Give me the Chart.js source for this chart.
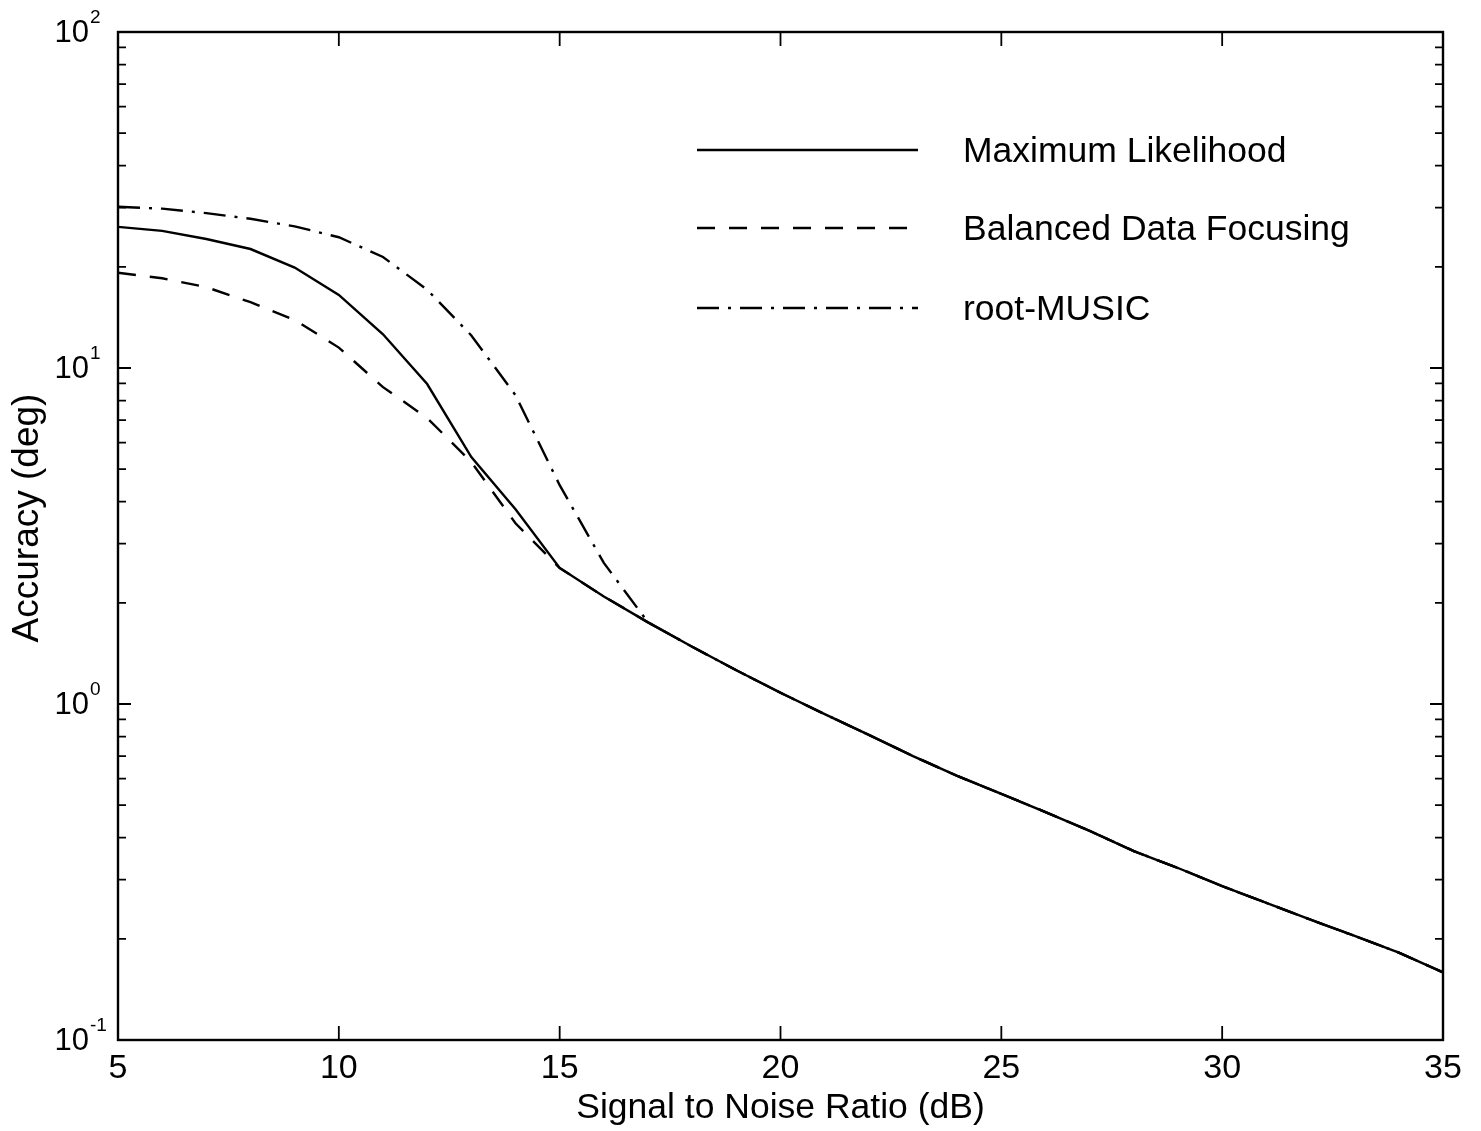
<!DOCTYPE html>
<html>
<head>
<meta charset="utf-8">
<script src="https://cdn.jsdelivr.net/npm/chart.js@4.4.1/dist/chart.umd.min.js"></script>
<style>
  body { margin: 0; background: #fff; }
  #wrap { width: 1481px; height: 1131px; position: relative; }
</style>
</head>
<body>
<div id="wrap"><canvas id="lineChart"></canvas></div>
<script>
const CHART = document.getElementById("lineChart");
const FONT = "'Liberation Sans', Arial, Helvetica, sans-serif";

// SNR (dB) on the x axis
var snr = [5, 6, 7, 8, 9, 10, 11, 12, 13, 14, 15, 16, 17, 18, 19, 20,
           21, 22, 23, 24, 25, 26, 27, 28, 29, 30, 31, 32, 33, 34, 35];

// accuracy in degrees
var maxLikelihood = [26.3, 25.6, 24.2, 22.6, 19.9, 16.5, 12.6, 8.96, 5.43, 3.8, 2.54, 2.09, 1.75, 1.48, 1.26, 1.08,
                     0.933, 0.809, 0.700, 0.611, 0.540, 0.477, 0.419, 0.365, 0.325, 0.287, 0.256, 0.228, 0.204, 0.182, 0.159];
var balancedFocusing = [19.2, 18.5, 17.4, 15.7, 13.9, 11.5, 8.77, 7.1, 5.25, 3.45, 2.54, 2.09, 1.75, 1.48, 1.26, 1.08,
                        0.933, 0.809, 0.700, 0.611, 0.540, 0.477, 0.419, 0.365, 0.325, 0.287, 0.256, 0.228, 0.204, 0.182, 0.159];
var rootMusic = [30.2, 29.8, 28.9, 27.8, 26.4, 24.5, 21.4, 17.1, 12.5, 8.3, 4.48, 2.63, 1.75, 1.48, 1.26, 1.08,
                 0.933, 0.809, 0.700, 0.611, 0.540, 0.477, 0.419, 0.365, 0.325, 0.287, 0.256, 0.228, 0.204, 0.182, 0.159];

var seriesNames = ["Maximum Likelihood", "Balanced Data Focusing", "root-MUSIC"];

// tick labels
var xTicks = [5, 10, 15, 20, 25, 30, 35];
var yTickVals = [0.1, 1, 10, 100];
var yTickExp = ["-1", "0", "1", "2"];

function pts(ys) {
  return snr.map(function (x, i) { return { x: x, y: ys[i] }; });
}

// frame, inside ticks, 10^n labels, y title and the legend
const framePlugin = {
  id: 'frame',
  afterDatasetsDraw(chart) {
    const ctx = chart.ctx, a = chart.chartArea;
    const xs = chart.scales.x, ys = chart.scales.y;
    ctx.save();
    ctx.strokeStyle = '#000';
    ctx.fillStyle = '#000';
    ctx.setLineDash([]);
    ctx.lineWidth = 2.4;
    ctx.strokeRect(a.left, a.top, a.right - a.left, a.bottom - a.top);

    ctx.lineWidth = 1.8;
    ctx.beginPath();
    xTicks.forEach(function (v) {
      const px = xs.getPixelForValue(v);
      ctx.moveTo(px, a.bottom); ctx.lineTo(px, a.bottom - 14);
      ctx.moveTo(px, a.top); ctx.lineTo(px, a.top + 14);
    });
    for (let e = -1; e < 2; e++) {
      for (let k = 1; k < 10; k++) {
        const py = ys.getPixelForValue(k * Math.pow(10, e));
        const len = k == 1 ? 13 : 8;
        ctx.moveTo(a.left, py); ctx.lineTo(a.left + len, py);
        ctx.moveTo(a.right, py); ctx.lineTo(a.right - len, py);
      }
    }
    ctx.stroke();

    // y labels as 10 with a raised exponent
    yTickVals.forEach(function (v, i) {
      const py = ys.getPixelForValue(v);
      ctx.font = '31px ' + FONT;
      ctx.textAlign = 'right';
      ctx.textBaseline = 'middle';
      ctx.fillText('10', 89, py + 1);
      ctx.font = '19px ' + FONT;
      ctx.textAlign = 'left';
      ctx.textBaseline = 'alphabetic';
      ctx.fillText(yTickExp[i], 90, py - 9);
    });

    // y axis title
    ctx.save();
    ctx.translate(28, 518);
    ctx.rotate(-Math.PI / 2);
    ctx.font = '37px ' + FONT;
    ctx.textAlign = 'center';
    ctx.textBaseline = 'middle';
    ctx.fillText('Accuracy (deg)', 0, 0);
    ctx.restore();

    // legend
    const rows = [150, 228, 308];
    chart.data.datasets.forEach(function (ds, i) {
      ctx.lineWidth = ds.borderWidth;
      ctx.setLineDash(ds.borderDash || []);
      ctx.beginPath();
      ctx.moveTo(697, rows[i]);
      ctx.lineTo(918, rows[i]);
      ctx.stroke();
      ctx.setLineDash([]);
      ctx.font = '35.5px ' + FONT;
      ctx.textAlign = 'left';
      ctx.textBaseline = 'middle';
      ctx.fillText(ds.label, 963, rows[i] + 2);
    });
    ctx.restore();
  }
};

let lineChart = new Chart(CHART, {
  type: 'line',
  data: {
    datasets: [
      {
        label: seriesNames[0],
        data: pts(maxLikelihood),
        borderColor: '#000',
        borderWidth: 2.4,
        borderDash: [],
        pointRadius: 0,
        tension: 0,
        fill: false
      },
      {
        label: seriesNames[1],
        data: pts(balancedFocusing),
        borderColor: '#000',
        borderWidth: 2.4,
        borderDash: [18, 14],
        pointRadius: 0,
        tension: 0,
        fill: false
      },
      {
        label: seriesNames[2],
        data: pts(rootMusic),
        borderColor: '#000',
        borderWidth: 2.4,
        borderDash: [22, 9, 3, 9],
        pointRadius: 0,
        tension: 0,
        fill: false
      }
    ]
  },
  options: {
    responsive: true,
    maintainAspectRatio: false,
    animation: false,
    layout: { padding: { top: 32, right: 38, left: 0, bottom: 0 } },
    plugins: {
      legend: { display: false },
      tooltip: { enabled: false }
    },
    scales: {
      x: {
        type: 'linear',
        min: 5,
        max: 35,
        grid: { display: false, drawTicks: false },
        border: { display: false },
        afterFit: function (s) { s.height = 91; },
        afterBuildTicks: function (s) { s.ticks = xTicks.map(function (v) { return { value: v }; }); },
        ticks: {
          color: '#000',
          padding: 8,
          maxRotation: 0,
          font: { family: FONT, size: 34 }
        },
        title: {
          display: true,
          text: 'Signal to Noise Ratio (dB)',
          color: '#000',
          padding: { top: 0, bottom: 1 },
          font: { family: FONT, size: 35.5 }
        }
      },
      y: {
        type: 'logarithmic',
        min: 0.1,
        max: 100,
        grid: { display: false, drawTicks: false },
        border: { display: false },
        afterFit: function (s) { s.width = 118; },
        ticks: { display: false },
        title: { display: false }
      }
    }
  },
  plugins: [framePlugin]
});
</script>
</body>
</html>
